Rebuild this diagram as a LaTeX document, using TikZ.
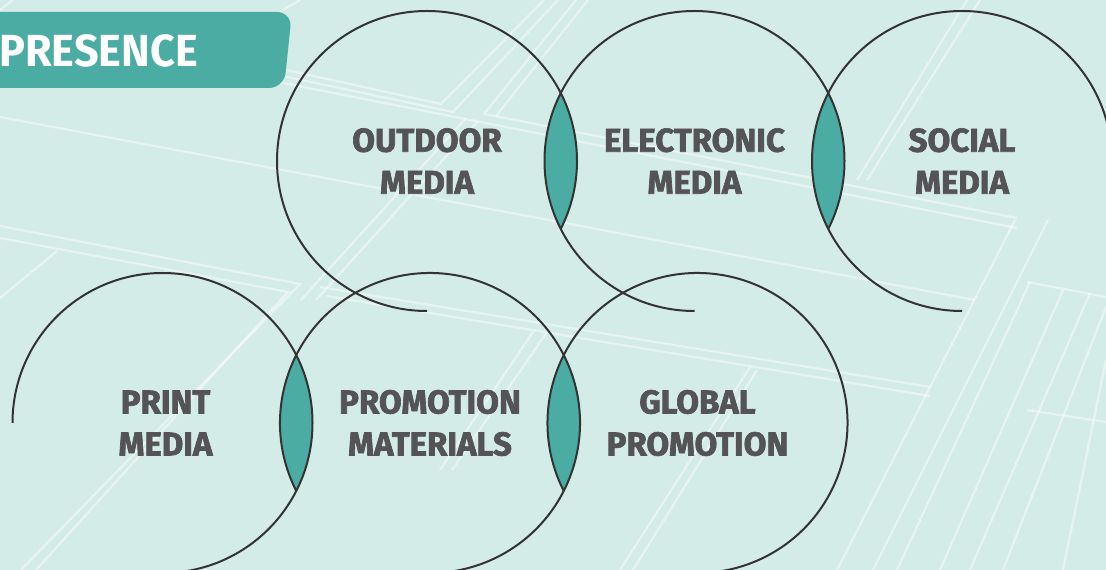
\documentclass[tikz,border=0pt]{standalone}
\usepackage{fontspec}
\usepackage{graphicx}
\setmainfont{Fira Sans}
\newfontfamily\lblfont{Fira Sans}[BoldFeatures={FakeBold=2}]
\definecolor{bgc}{HTML}{D4ECE7}
\definecolor{tealc}{HTML}{4AACA2}
\definecolor{ringc}{HTML}{333333}
\definecolor{txtc}{HTML}{545456}
\tikzset{
  bgline/.style={white, opacity=0.45, line width=2.2pt},
  ring/.style={draw=ringc, line width=2pt},
  lensfill/.style={fill=tealc},
  lbl/.style={font=\lblfont\fontsize{33}{42}\selectfont\bfseries, text=txtc, align=center, inner sep=0pt},
}
\begin{document}
\begin{tikzpicture}[x=1pt,y=1pt]
\useasboundingbox (0,0) rectangle (1106,570);
\clip (0,0) rectangle (1106,570);
\fill[bgc] (0,0) rectangle (1106,570);
% background texture lines (px coords flipped: y = 570 - ypx)
\begin{scope}[shift={(0,570)}, yscale=-1]
  \draw[bgline] (0,117) -- (975,300);
  \draw[bgline] (150,40) -- (441,104) -- (544,0);
  \draw[bgline] (150,48) -- (453,112) -- (558,0);
  \draw[bgline] (0,27) -- (1017,228);
  \draw[bgline] (484,114) -- (1017,218);
  \draw[bgline] (484,114) -- (576,0);
  \draw[bgline] (496,116) -- (588,0);
  \draw[bgline] (466,118) -- (301,300);
  \draw[bgline] (478,121) -- (316,300);
  \draw[bgline] (0,226) -- (300,284) -- (21,570);
  \draw[bgline] (0,238) -- (288,292) -- (36,570);
  \draw[bgline] (320,287) -- (930,387);
  \draw[bgline] (327,296) -- (930,396);
  \draw[bgline] (57,251) -- (0,298);
  \draw[bgline] (967,0) -- (857,180);
  \draw[bgline] (980,0) -- (867,180);
  \draw[bgline] (1015,220) -- (837,570);
  \draw[bgline] (1048,220) -- (873,570);
  \draw[bgline] (1027,282) -- (1106,297);
  \draw[bgline] (1027,410) -- (1106,422);
  \draw[bgline] (1030,282) -- (897,570);
  \draw[bgline] (1063,290) -- (940,570);
  \draw[bgline] (1090,293) -- (970,570);
  \draw[bgline] (1106,307) -- (1003,570);
  \draw[bgline] (1106,360) -- (1063,570);
  \draw[bgline] (750,367) -- (620,570);
  \draw[bgline] (757,370) -- (633,570);
  \draw[bgline] (533,332) -- (440,470);
  \draw[bgline] (547,332) -- (452,470);
  \draw[bgline] (283,10) -- (300,0);
  \draw[bgline] (13,0) -- (0,10);
\end{scope}
% banner
\fill[tealc, rounded corners=15pt] (-30,558) -- (292,558) -- (284,482) -- (-30,482) -- cycle;
\node[anchor=base west, inner sep=0pt, text=white, font=\fontsize{45}{50}\selectfont\bfseries] (title) at (-1,503) {\scalebox{0.96}[1]{PRESENCE}};
% centres
\coordinate (c1) at (427,409);
\coordinate (c2) at (694.5,409);
\coordinate (c3) at (962,409);
\coordinate (d1) at (162.5,147);
\coordinate (d2) at (430,147);
\coordinate (d3) at (697.5,147);
% lenses
\begin{scope}\clip (c1) circle[radius=150pt]; \fill[lensfill] (c2) circle[radius=150pt];\end{scope}
\begin{scope}\clip (c2) circle[radius=150pt]; \fill[lensfill] (c3) circle[radius=150pt];\end{scope}
\begin{scope}\clip (d1) circle[radius=150pt]; \fill[lensfill] (d2) circle[radius=150pt];\end{scope}
\begin{scope}\clip (d2) circle[radius=150pt]; \fill[lensfill] (d3) circle[radius=150pt];\end{scope}
% rings
\draw[ring] (c1) ++(270:150pt) arc[start angle=270, end angle=-27, radius=150pt];
\draw[ring] (c2) ++(270:150pt) arc[start angle=270, end angle=-27, radius=150pt];
\draw[ring] (c3) ++(270:150pt) arc[start angle=270, end angle=5, radius=150pt];
\draw[ring] (d1) ++(180:150pt) arc[start angle=180, end angle=-90, radius=150pt];
\draw[ring] (d2) ++(207:150pt) arc[start angle=207, end angle=-90, radius=150pt];
\draw[ring] (d3) ++(207:150pt) arc[start angle=207, end angle=-90, radius=150pt];
% labels
\node[lbl] (outdoor) at (c1) {OUTDOOR\\MEDIA};
\node[lbl] (electronic) at (c2) {ELECTRONIC\\MEDIA};
\node[lbl] (social) at (c3) {SOCIAL\\MEDIA};
\node[lbl] (print) at ([xshift=3pt]d1) {PRINT\\MEDIA};
\node[lbl] (promotion) at (d2) {PROMOTION\\MATERIALS};
\node[lbl] (global) at (d3) {GLOBAL\\PROMOTION};
\end{tikzpicture}
\end{document}
